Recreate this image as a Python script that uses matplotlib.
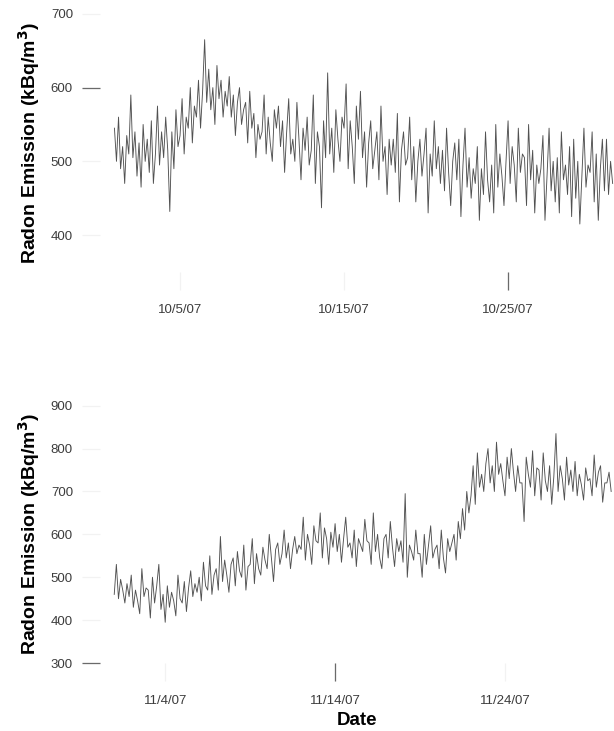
import numpy as np
import pandas as pd
import matplotlib
matplotlib.use("Agg")
import matplotlib.pyplot as plt
import matplotlib.dates as mdates
from matplotlib.ticker import FuncFormatter

plt.rcParams['font.family'] = ['Liberation Sans', 'DejaVu Sans']

# ---- 数据：每 3 小时一个读数 (kBq/m3) ----
oct_start = '2007-10-01'
oct_radon = [
    545, 500, 560, 490, 520, 470, 535, 510,   # 10/1
    590, 505, 540, 480, 525, 465, 550, 500,
    530, 485, 555, 470, 510, 575, 495, 540,
    505, 560, 515, 432, 540, 490, 570, 520,
    535, 585, 510, 560, 545, 600, 525, 575,   # 10/5
    560, 610, 545, 595, 665, 580, 625, 570,
    600, 550, 630, 585, 610, 560, 595, 575,
    615, 560, 590, 535, 580, 600, 550, 570,
    580, 525, 595, 545, 565, 505, 550, 530,
    540, 590, 510, 560, 525, 500, 570, 545,   # 10/10
    575, 520, 555, 485, 540, 585, 510, 530,
    500, 580, 530, 475, 545, 515, 560, 495,
    515, 590, 470, 540, 520, 437, 555, 505,
    620, 510, 545, 485, 570, 530, 500, 560,
    545, 605, 490, 555, 520, 470, 575, 530,   # 10/15
    595, 505, 540, 465, 525, 555, 490, 515,
    540, 475, 575, 500, 520, 455, 530, 495,
    530, 485, 565, 445, 515, 540, 495, 505,
    560, 475, 520, 445, 500, 530, 480, 510,
    545, 430, 510, 480, 555, 490, 520, 470,   # 10/20
    515, 460, 545, 485, 440, 500, 525, 475,
    530, 425, 495, 545, 465, 505, 450, 490,
    470, 520, 420, 490, 455, 540, 475, 445,
    495, 430, 550, 465, 510, 480, 440, 500,
    555, 470, 520, 495, 445, 545, 485, 510,   # 10/25
    505, 440, 550, 475, 515, 430, 495, 470,
    490, 535, 420, 480, 545, 460, 500, 445,
    505, 430, 540, 475, 495, 455, 520, 425,
    530, 450, 500, 415, 480, 545, 465, 495,
    485, 540, 445, 510, 420, 490, 530, 460,   # 10/30
    530, 455, 500, 470,
]

nov_start = '2007-11-01'
nov_radon = [
    460, 530, 450, 495, 470, 440, 485, 455,   # 11/1
    505, 430, 470, 445, 415, 520, 455, 475,
    470, 405, 500, 440, 480, 530, 425, 460,
    395, 480, 430, 465, 445, 410, 505, 450,
    440, 490, 420, 475, 515, 455, 485, 465,   # 11/5
    500, 445, 535, 480, 470, 550, 460, 505,
    520, 470, 595, 490, 540, 505, 465, 530,
    545, 480, 560, 515, 500, 575, 470, 525,
    530, 590, 485, 555, 520, 505, 570, 540,
    520, 600, 545, 490, 565, 580, 530, 555,   # 11/10
    610, 545, 580, 520, 565, 595, 555, 575,
    565, 640, 540, 600, 575, 530, 620, 585,
    580, 650, 545, 615, 590, 530, 605, 570,
    625, 560, 600, 535, 590, 640, 570, 580,
    545, 610, 525, 590, 575, 560, 635, 585,   # 11/15
    580, 530, 650, 560, 600, 545, 520, 590,
    600, 545, 630, 570, 525, 590, 560, 585,
    535, 695, 500, 575, 560, 540, 610, 555,
    555, 500, 600, 530, 575, 620, 545, 565,
    575, 520, 610, 545, 510, 590, 560, 580,   # 11/20
    600, 540, 630, 590, 660, 610, 700, 650,
    690, 760, 670, 790, 710, 740, 700, 765,
    800, 720, 760, 700, 815, 740, 765, 725,
    690, 780, 730, 800, 745, 700, 760, 720,
    720, 630, 780, 740, 710, 795, 690, 755,   # 11/25
    750, 680, 790, 725, 700, 760, 670, 735,
    835, 700, 760, 730, 680, 780, 715, 750,
    700, 770, 690, 740, 715, 680, 755, 725,
    730, 690, 785, 710, 745, 760, 675, 720,
    720, 745, 700,
]

oct_ticks = ['2007-10-05', '2007-10-15', '2007-10-25']
nov_ticks = ['2007-11-04', '2007-11-14', '2007-11-24']
oct_yticks = [400, 500, 600, 700]
nov_yticks = [300, 400, 500, 600, 700, 800, 900]


def date_label(x, pos):
    d = mdates.num2date(x)
    return f"{d.month}/{d.day}/{d:%y}"


def draw_panel(ax, start, values, xlim, ylim, xticks, yticks, dark_x, dark_y):
    t = pd.date_range(start, periods=len(values), freq='3h')
    ax.plot(t, values, color='#262626', linewidth=0.65, alpha=0.8)
    ax.set_xlim(pd.Timestamp(xlim[0]), pd.Timestamp(xlim[1]))
    ax.set_ylim(*ylim)
    ax.set_xticks(pd.to_datetime(xticks))
    ax.set_yticks(yticks)
    ax.xaxis.set_major_formatter(FuncFormatter(date_label))
    for s in ax.spines.values():
        s.set_visible(False)
    ax.tick_params(axis='both', which='major', direction='out', length=13,
                   width=0.9, color='#f2f2f2', labelsize=9.5,
                   labelcolor='#3c3c3c')
    ax.tick_params(axis='y', which='major', pad=6.5)
    ax.tick_params(axis='x', which='major', pad=10)
    # 扫描件上只残留了少数刻度线：用 minor 刻度把它们画深一些
    ax.xaxis.remove_overlapping_locs = False
    ax.yaxis.remove_overlapping_locs = False
    ax.set_xticks(pd.to_datetime(dark_x), minor=True)
    ax.set_yticks(dark_y, minor=True)
    ax.tick_params(axis='both', which='minor', direction='out', length=13,
                   width=0.9, color='#6a6a6a', labelsize=0)
    ax.set_ylabel('Radon Emission (kBq/m$^\\mathbf{3}$)', fontsize=14,
                  fontweight='bold')
    ax.yaxis.set_label_coords(-0.113, 0.5)


fig = plt.figure(figsize=(6.14, 7.31), dpi=100)
ax1 = fig.add_axes([0.163, 0.628, 0.837, 0.353])
ax2 = fig.add_axes([0.163, 0.093, 0.837, 0.352])

draw_panel(ax1, oct_start, oct_radon,
           ('2007-09-30 03:00', '2007-10-31 11:00'), (350, 700),
           oct_ticks, oct_yticks, ['2007-10-25'], [600])
draw_panel(ax2, nov_start, nov_radon,
           ('2007-10-31 04:00', '2007-11-30 10:00'), (300, 900),
           nov_ticks, nov_yticks, ['2007-11-14'], [300])

ax2.set_xlabel('Date', fontsize=13.5, fontweight='bold')
ax2.xaxis.set_label_coords(0.5, -0.19)

fig.savefig('out.png', dpi=100, facecolor='white')
